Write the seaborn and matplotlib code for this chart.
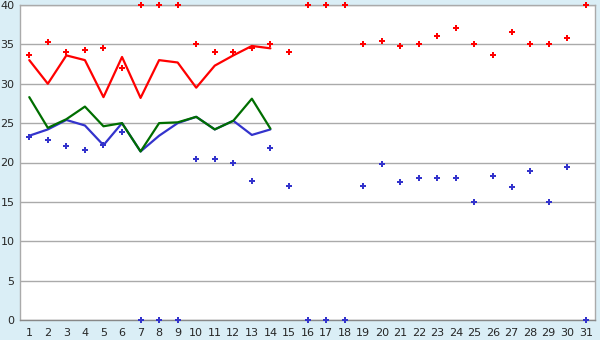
import matplotlib
matplotlib.use("Agg")
import matplotlib.pyplot as plt
import seaborn as sns
import pandas as pd

days = list(range(1, 32))
red_points = [33.7, 35.3, 34.0, 34.3, 34.5, 32.0, 40, 40, 40, 35.0, 34.0, 34.0, 34.5, 35.0, 34.0,
              40, 40, 40, 35.0, 35.4, 34.8, 35.0, 36.1, 37.1, 35.0, 33.6, 36.6, 35.0, 35.0, 35.8, 40]
blue_points = [23.2, 22.8, 22.1, 21.6, 22.2, 23.9, 0, 0, 0, 20.5, 20.5, 20.0, 17.6, 21.9, 17.0,
               0, 0, 0, 17.0, 19.8, 17.5, 18.0, 18.0, 18.0, 15.0, 18.3, 16.9, 18.9, 15.0, 19.4, 0]
line_days = list(range(1, 15))
red_line = [33.0, 30.0, 33.6, 33.0, 28.3, 33.4, 28.2, 33.0, 32.7, 29.5, 32.3, 33.6, 34.8, 34.5]
green_line = [28.3, 24.4, 25.5, 27.1, 24.6, 25.0, 21.4, 25.0, 25.1, 25.8, 24.2, 25.3, 28.1, 24.3]
blue_line = [23.4, 24.2, 25.4, 24.7, 22.2, 25.0, 21.4, 23.4, 25.0, 25.8, 24.2, 25.3, 23.5, 24.2]
y_ticks = [0, 5, 10, 15, 20, 25, 30, 35, 40]

sns.set_style("white")
plt.rcParams['font.family'] = ['DejaVu Sans']

fig = plt.figure(figsize=(6, 3.4), dpi=100)
fig.patch.set_facecolor('#daeef6')
ax = fig.add_axes([20/600, 20/340, 575/600, 315/340])
ax.set_facecolor('white')

pts = pd.DataFrame({'day': days, 'red': red_points, 'blue': blue_points})
lines = pd.DataFrame({'day': line_days, 'red': red_line, 'green': green_line, 'blue': blue_line})

for y in y_ticks:
    ax.axhline(y, color='#aaaaaa', lw=1, zorder=0)

sns.lineplot(data=lines, x='day', y='red', color='#ff0000', lw=1.6, ax=ax, zorder=3)
sns.lineplot(data=lines, x='day', y='blue', color='#3333cc', lw=1.6, ax=ax, zorder=3)
sns.lineplot(data=lines, x='day', y='green', color='#006e00', lw=1.6, ax=ax, zorder=3)
sns.scatterplot(data=pts, x='day', y='red', color='#ff0000', marker='P', s=22, linewidth=0, ax=ax, zorder=4, clip_on=False)
sns.scatterplot(data=pts, x='day', y='blue', color='#3333cc', marker='P', s=22, linewidth=0, ax=ax, zorder=4, clip_on=False)

ax.set_xlim(0.5, 31.5)
ax.set_ylim(0, 40)
ax.set_xticks(days)
ax.set_xticklabels([str(d) for d in days])
ax.set_yticks(y_ticks)
ax.set_yticklabels([str(v) for v in y_ticks])
ax.set_xlabel('')
ax.set_ylabel('')
for s in ['left', 'bottom', 'right', 'top']:
    ax.spines[s].set_color('#aaaaaa')
    ax.spines[s].set_linewidth(1)
ax.spines['bottom'].set_color('#888888')
ax.tick_params(axis='x', direction='out', length=5, width=1, color='black', labelsize=8, pad=1)
ax.tick_params(axis='y', direction='out', length=3, width=1, color='#888888', labelsize=8, pad=1)

fig.savefig('out.png', dpi=100, facecolor=fig.get_facecolor())
